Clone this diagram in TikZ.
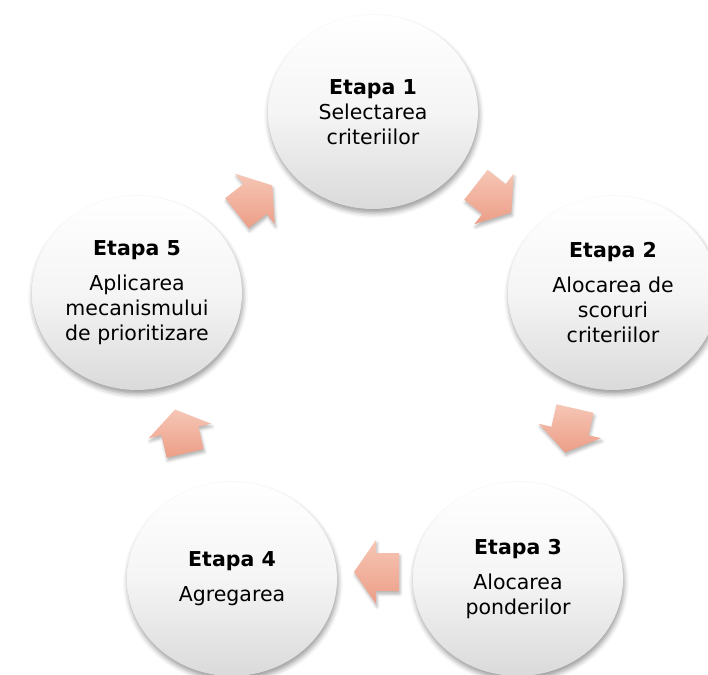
\documentclass[tikz,border=0pt]{standalone}
\usepackage{fontspec}
\setmainfont{DejaVu Sans}
\usetikzlibrary{calc,shapes.geometric,shadows.blur}

\definecolor{arrowlight}{RGB}{246,198,181}
\definecolor{arrowdark}{RGB}{236,158,135}
\definecolor{stagegray}{RGB}{218,218,218}

\tikzset{
  stage/.style={ellipse, minimum width=210pt, minimum height=194pt, inner sep=0pt,
    align=center, top color=white, bottom color=stagegray, middle color=white!96!black,
    blur shadow={shadow xshift=1pt, shadow yshift=-4pt, shadow blur radius=5pt, shadow opacity=40},
    font=\fontsize{20.5}{25}\selectfont},
  arrowfill/.style={top color=arrowlight, bottom color=arrowdark,
    blur shadow={shadow xshift=1pt, shadow yshift=-3pt, shadow blur radius=3pt, shadow opacity=30}},
  pics/stagearrow/.style={code={
    \shade[arrowfill] ($({#1+180}:23)+({#1+90}:19)$) -- ({#1+90}:19) -- ({#1+90}:32)
      -- (#1:22) -- ({#1-90}:32) -- ({#1-90}:19) -- ($({#1+180}:23)+({#1-90}:19)$) -- cycle;
  }}
}

\begin{document}
\begin{tikzpicture}[x=1pt, y=1pt]
  \useasboundingbox (0,0) rectangle (708,674);
  % the five stages
  \node[stage] (s1) at (373,562) {\textbf{Etapa 1}\\Selectarea\\criteriilor};
  \node[stage] (s2) at (613,381) {\textbf{Etapa 2}\\[10pt]Alocarea de\\scoruri\\criteriilor};
  \node[stage] (s3) at (518,95) {\textbf{Etapa 3}\\[10pt]Alocarea\\ponderilor};
  \node[stage] (s4) at (232,95) {\textbf{Etapa 4}\\[10pt]Agregarea};
  \node[stage] (s5) at (137,381) {\textbf{Etapa 5}\\[10pt]Aplicarea\\mecanismului\\de prioritizare};
  % arrows between the stages
  \pic at (494,475) {stagearrow=-38};
  \pic at (570,243) {stagearrow=-103};
  \pic at (376,102) {stagearrow=180};
  \pic at (180,243) {stagearrow=103};
  \pic at (255,475) {stagearrow=38};
\end{tikzpicture}
\end{document}
